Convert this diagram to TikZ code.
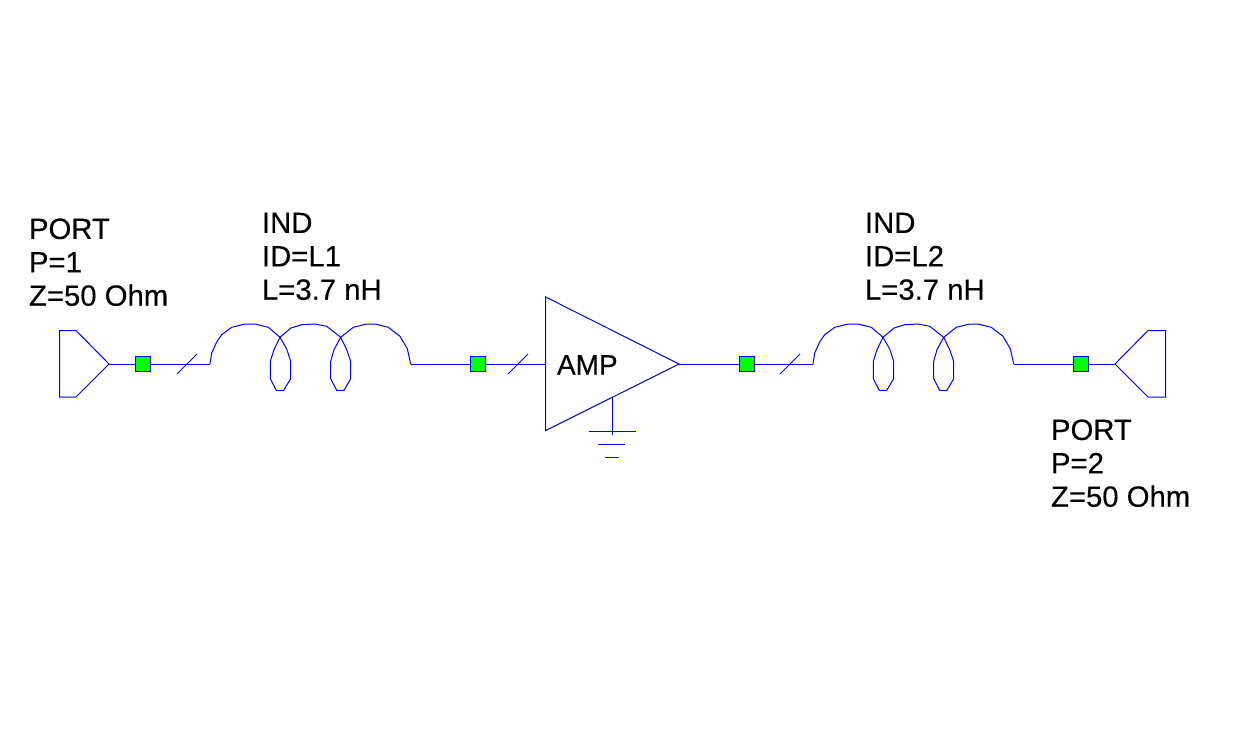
\documentclass[tikz,border=0pt]{standalone}
\usepackage{fontspec}
\setmainfont{Liberation Sans}
\newfontface\labfont[FakeBold=0.25]{Liberation Sans}
\definecolor{wireblue}{RGB}{0,0,255}
\definecolor{pingreen}{RGB}{0,255,0}
\tikzset{
  wire/.style={draw=wireblue,line width=1pt,line join=miter},
  pinbox/.style={draw=wireblue,line width=1pt,fill=pingreen,minimum size=15pt,inner sep=0pt,outer sep=0pt},
  label/.style={anchor=south west,inner sep=0pt,outer sep=0pt,align=left,text=black,font=\labfont\fontsize{29.3}{33.4}\selectfont},
  amplabel/.style={label,font=\labfont\fontsize{28}{33.4}\selectfont},
}
% coil polyline, local coordinates, origin at its left end
\newcommand{\coilpath}[2]{%
  \draw[wire,shift={(#1,#2)}] (0,0) -- (1.7,-11) -- (6.7,-22) -- (11.7,-29.3) -- (21.7,-36.7) -- (35,-40) -- (45,-40)
   -- (58.3,-36.7) -- (70,-26.7) -- (76.7,-15) -- (80.7,-2.7) -- (80.7,14.7) -- (73.7,26.3) -- (66.3,26.3)
   -- (60.3,14.7) -- (60.3,-2.7) -- (64,-14.3) -- (70,-26.7)
   -- (81,-36) -- (91.7,-39.3) -- (105,-40) -- (116.7,-37.7) -- (130.7,-26.7) -- (136.7,-14.3) -- (140.7,-2.7)
   -- (140.7,14.7) -- (134,26.3) -- (126.7,26.3) -- (120.7,14.7) -- (120.7,-2.7) -- (124,-14.3) -- (130.7,-26.7)
   -- (143.3,-36.7) -- (156.7,-40) -- (165,-40) -- (178.3,-36.7) -- (190,-27.7) -- (197.3,-15.3) -- (200.7,0);
}
\begin{document}
\begin{tikzpicture}[x=1pt,y=-1pt]
\useasboundingbox (0,0) rectangle (1243,744);
\fill[white] (0,0) rectangle (1243,744);

% named points
\coordinate (p1apex) at (109,364);
\coordinate (l1a) at (210,364);
\coordinate (l1b) at (410.7,364);
\coordinate (ampin) at (545.7,364);
\coordinate (ampout) at (679,364);
\coordinate (l2a) at (813,364);
\coordinate (l2b) at (1013.7,364);
\coordinate (p2apex) at (1115,364);
\coordinate (gndtop) at (612.3,397);
\coordinate (gnd) at (612.3,431.5);

% wires
\draw[wire] (p1apex) -- (l1a);
\draw[wire] (l1b) -- (ampin);
\draw[wire] (ampout) -- (l2a);
\draw[wire] (l2b) -- (p2apex);

% ports
\draw[wire] (p1apex) -- (76,330.5) -- (59.5,330.5) -- (59.5,397) -- (76,397) -- cycle;
\draw[wire] (p2apex) -- (1148,330.5) -- (1165.5,330.5) -- (1165.5,397) -- (1148,397) -- cycle;

% inductors
\coilpath{210}{364}
\coilpath{813}{364}

% ticks
\draw[wire] (177,374) -- (197,354);
\draw[wire] (508,374) -- (528,354);
\draw[wire] (780,374) -- (800,354);

% amplifier
\draw[wire] (545.7,297) -- (ampout) -- (545.7,430.5) -- cycle;
\draw[wire] (gndtop) -- (612.3,434.5);
\draw[wire] (589,431.5) -- (635.7,431.5);
\draw[wire] (598,444.5) -- (624.7,444.5);
\draw[wire] (605,457.5) -- (618.7,457.5);

% pins
\node[pinbox] (pin1) at (143,364) {};
\node[pinbox] (pin2) at (478,364) {};
\node[pinbox] (pin3) at (746.5,364) {};
\node[pinbox] (pin4) at (1081,364) {};

% labels
\node[label] (port1) at (29,306) {PORT\\P=1\\Z=50 Ohm};
\node[label] (ind1) at (262,300) {IND\\ID=L1\\L=3.7 nH};
\node[amplabel] (amp) at (557,374.5) {AMP};
\node[label] (ind2) at (865,300) {IND\\ID=L2\\L=3.7 nH};
\node[label] (port2) at (1051,507) {PORT\\P=2\\Z=50 Ohm};
\end{tikzpicture}
\end{document}
